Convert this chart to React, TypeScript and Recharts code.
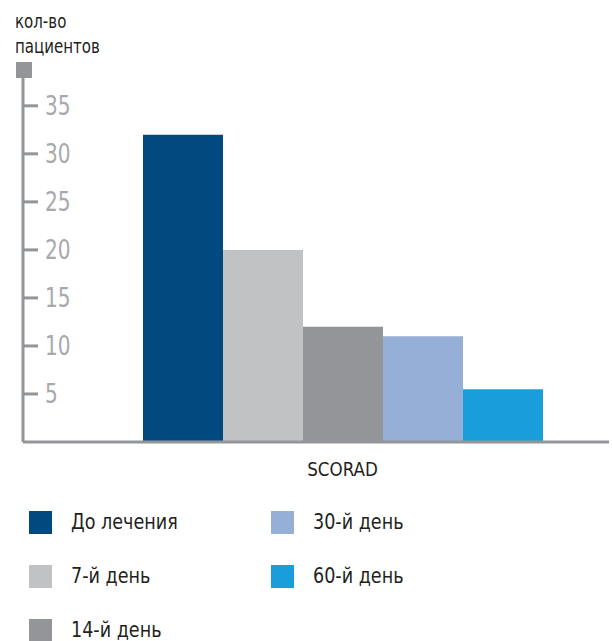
import React from 'react';
import { BarChart, Bar, XAxis, YAxis, Legend, ReferenceLine } from 'recharts';

const categories = ['SCORAD'];
const seriesNames = ['До лечения', '7-й день', '14-й день', '30-й день', '60-й день'];
const seriesValues = [32, 20, 12, 11, 5.5];
const seriesColors = ['#004a80', '#c1c2c4', '#949599', '#95afd6', '#1a9edb'];
const yTicks = [5, 10, 15, 20, 25, 30, 35];
const yTitle = ['кол-во', 'пациентов'];

const FONT = "'DejaVu Sans Condensed', 'DejaVu Sans', sans-serif";
const AXIS_GRAY = '#939598';
const TEXT = '#231f20';

const data = categories.map((name) => {
  const row: Record<string, string | number> = { name };
  seriesNames.forEach((s, i) => {
    row[s] = seriesValues[i];
  });
  return row;
});

// narrow text: the font is squeezed horizontally around its anchor point
function NarrowText({ x, y, scale, anchor = 'start', dy, size, fill, children }: any) {
  return (
    <text
      transform={`translate(${x},${y}) scale(${scale},1)`}
      x={0}
      y={0}
      dy={dy}
      textAnchor={anchor}
      fontSize={size}
      fill={fill}
      fontFamily={FONT}
    >
      {children}
    </text>
  );
}

function YTick({ x, y, payload, textAnchor }: any) {
  return (
    <NarrowText x={x} y={y} scale={0.86} anchor={textAnchor} dy="0.36em" size={26} fill="#a7a9ac">
      {payload.value}
    </NarrowText>
  );
}

function XTick({ x, y, payload }: any) {
  return (
    <NarrowText x={x} y={y} scale={0.93} anchor="middle" dy="0.71em" size={20} fill={TEXT}>
      {payload.value}
    </NarrowText>
  );
}

// square cap on top of the value axis plus the two-line title above it
function AxisCap({ viewBox }: any) {
  const x = viewBox.x;
  const y = viewBox.y;
  return (
    <g>
      {yTitle.map((line, i) => (
        <NarrowText key={line} x={x - 8} y={y - 49 + i * 25} scale={0.88} size={19} fill={TEXT}>
          {line}
        </NarrowText>
      ))}
      <rect x={x - 7} y={y - 15} width={16} height={16} fill={AXIS_GRAY} />
    </g>
  );
}

function LegendGrid() {
  return (
    <div
      style={{
        display: 'grid',
        gridTemplateColumns: '242px 242px',
        gridTemplateRows: 'repeat(3, 54px)',
        gridAutoFlow: 'column',
      }}
    >
      {seriesNames.map((name, i) => (
        <div key={name} style={{ display: 'flex', alignItems: 'center' }}>
          <span style={{ width: 23, height: 23, background: seriesColors[i], marginRight: 19, flex: 'none' }} />
          <span
            style={{
              display: 'inline-block',
              fontSize: 21,
              color: TEXT,
              fontFamily: FONT,
              transform: 'scaleX(0.93)',
              transformOrigin: 'left center',
              whiteSpace: 'nowrap',
            }}
          >
            {name}
          </span>
        </div>
      ))}
    </div>
  );
}

export default function App() {
  return (
    <div style={{ position: 'absolute', left: 0, top: 0, width: 612, height: 641, background: '#fff' }}>
      <BarChart
        width={612}
        height={641}
        data={data}
        margin={{ top: 77, right: 3, bottom: 169, left: 23 }}
        barSize={80}
        barGap={0}
      >
        <XAxis
          dataKey="name"
          height={30}
          padding={{ left: 53, right: 0 }}
          tickLine={false}
          axisLine={{ stroke: AXIS_GRAY, strokeWidth: 3 }}
          tickMargin={14}
          tick={XTick}
        />
        <XAxis xAxisId="cap" type="number" domain={[0, 1]} allowDataOverflow hide height={0} />
        <YAxis
          mirror
          domain={[0, 38]}
          ticks={yTicks}
          tickSize={15}
          tickMargin={7}
          axisLine={{ stroke: AXIS_GRAY, strokeWidth: 3 }}
          tickLine={{ stroke: AXIS_GRAY, strokeWidth: 3 }}
          tick={YTick}
          label={{ content: AxisCap }}
        />
        <ReferenceLine
          xAxisId="cap"
          segment={[{ x: 1, y: 0 }, { x: 1, y: 0.95 }]}
          stroke={AXIS_GRAY}
          strokeWidth={3}
          ifOverflow="visible"
        />
        {seriesNames.map((name, i) => (
          <Bar key={name} dataKey={name} fill={seriesColors[i]} isAnimationActive={false} />
        ))}
        <Legend
          layout="vertical"
          align="center"
          verticalAlign="middle"
          content={LegendGrid}
          wrapperStyle={{ left: 29, top: 495, width: 520 }}
        />
      </BarChart>
    </div>
  );
}
